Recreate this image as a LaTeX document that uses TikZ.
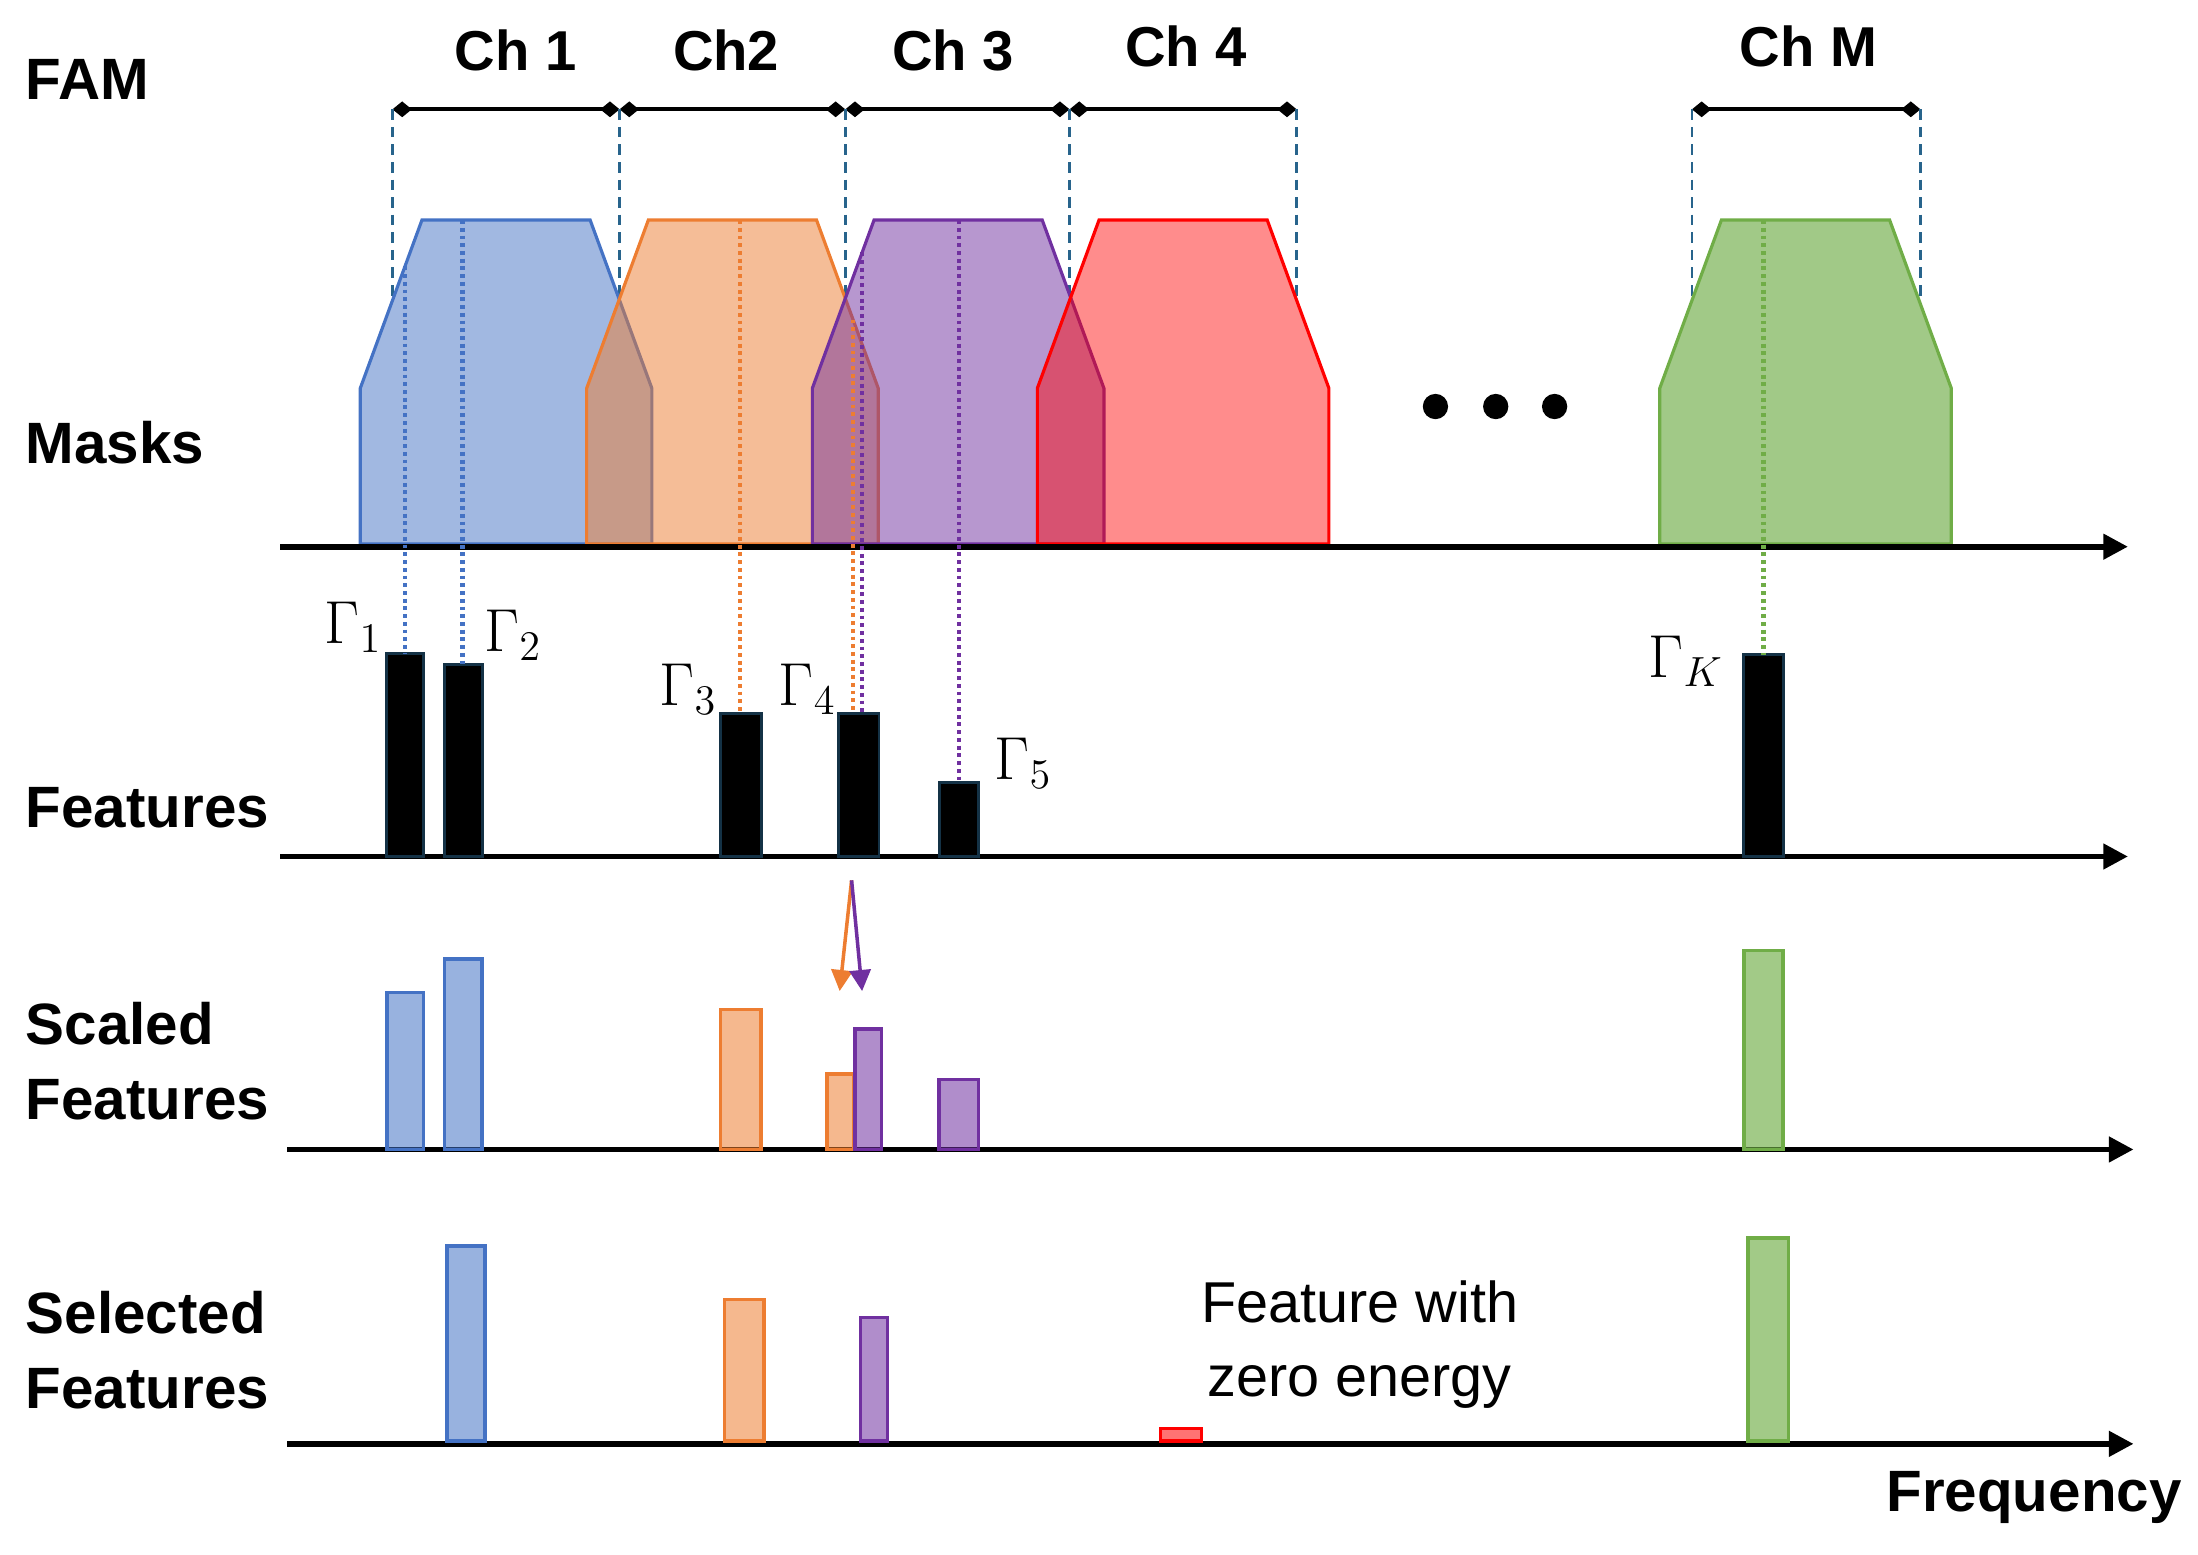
\documentclass[tikz,border=0pt]{standalone}
\usepackage{fontspec}
\setmainfont{Liberation Sans}
\usepackage{tikz}
\usetikzlibrary{arrows.meta,positioning}

\definecolor{chblue}{RGB}{68,114,196}
\definecolor{chorange}{RGB}{237,125,49}
\definecolor{chpurple}{RGB}{112,48,160}
\definecolor{chred}{RGB}{255,0,0}
\definecolor{chgreen}{RGB}{112,173,71}
\definecolor{famteal}{RGB}{40,100,140}
\definecolor{featedge}{RGB}{20,50,70}

% one mask around a channel centre
\newcommand{\maskpath}[1]{(#1-104,388) -- (#1-104,277) -- (#1-60,157) -- (#1+60,157) -- (#1+104,277) -- (#1+104,388) -- cycle}

\begin{document}
\begin{tikzpicture}[x=0.014018cm, y=-0.014018cm,
  rowlabel/.style={font=\bfseries\fontsize{16.6}{21.5}\selectfont, inner sep=0pt, align=left},
  chlabel/.style={font=\bfseries\fontsize{16}{19}\selectfont, inner sep=0pt},
  notelabel/.style={font=\fontsize{16.4}{21}\selectfont, inner sep=0pt, align=center},
  gamlabel/.style={font=\fontsize{18}{21}\selectfont, inner sep=0pt},
  freqaxis/.style={line width=1.6pt, -{Triangle[length=7pt,width=7pt]}},
  famline/.style={line width=1.2pt, {Diamond[length=5.5pt,width=4.5pt]}-{Diamond[length=5.5pt,width=4.5pt]}},
  famdash/.style={famteal, line width=0.7pt, dash pattern=on 3pt off 2pt},
  mask/.style={draw=#1, fill=#1, fill opacity=0.5, line width=0.9pt},
  featdot/.style={line width=1.3pt, dash pattern=on 1.1pt off 1.1pt},
  featbar/.style={draw=featedge, fill=black, line width=0.8pt},
  scbar/.style={draw=#1, fill=#1, fill opacity=0.55, line width=1pt},
  movearrow/.style={line width=1pt, -{Triangle[length=6pt,width=6pt]}},
]
\useasboundingbox (0,0) rectangle (1568,1109);

% FAM channel grid
\coordinate (t0) at (280,78);
\coordinate (t1) at (442,78);
\coordinate (t2) at (603,78);
\coordinate (t3) at (763,78);
\coordinate (t4) at (925,78);
\coordinate (tM0) at (1207,78);
\coordinate (tM1) at (1370,78);
\coordinate (sh) at (0,277);

\foreach \a/\b in {t0/t1, t1/t2, t2/t3, t3/t4, tM0/tM1}
  \draw[famline] (\a) -- (\b);
\foreach \t in {t0, t1, t2, t3, t4, tM0, tM1}
  \draw[famdash] (\t) -- (\t |- sh);

% Masks
\foreach \c in {361, 522.5, 683.5, 844, 1288}
  \fill[white] \maskpath{\c};
\draw[mask=chblue] \maskpath{361};
\draw[mask=chorange] \maskpath{522.5};
\draw[mask=chpurple] \maskpath{683.5};
\draw[mask=chred, fill opacity=0.45] \maskpath{844};
\draw[mask=chgreen, fill opacity=0.65] \maskpath{1288};

\foreach \x in {1024, 1067, 1109}
  \fill (\x,290) circle[radius=3.6pt];

% Axes
\coordinate (ax1a) at (200,390);  \coordinate (ax1b) at (1518,390);
\coordinate (ax2a) at (200,611);  \coordinate (ax2b) at (1518,611);
\coordinate (ax3a) at (205,820);  \coordinate (ax3b) at (1522,820);
\coordinate (ax4a) at (205,1030); \coordinate (ax4b) at (1522,1030);
\foreach \a/\b in {ax1a/ax1b, ax2a/ax2b, ax3a/ax3b, ax4a/ax4b}
  \draw[freqaxis] (\a) -- (\b);

% Features
\draw[featbar] (276,611) rectangle (302,466);
\draw[featbar] (317,611) rectangle (344,474);
\draw[featbar] (514,611) rectangle (543,509);
\draw[featbar] (598,611) rectangle (627,509);
\draw[featbar] (670,611) rectangle (698,558);
\draw[featbar] (1244,611) rectangle (1272,467);

\coordinate (m1a) at (289,190);    \coordinate (g1) at (289,466);
\coordinate (m1b) at (330,157);    \coordinate (g2) at (330,474);
\coordinate (m2a) at (528,157);    \coordinate (g3) at (528,509);
\coordinate (m2b) at (608.5,228);  \coordinate (g4a) at (608.5,509);
\coordinate (m3a) at (615,180);    \coordinate (g4b) at (615,509);
\coordinate (m3b) at (684,157);    \coordinate (g5) at (684,558);
\coordinate (mMa) at (1258,157);   \coordinate (gK) at (1258,467);

\foreach \src/\dst/\col in {m1a/g1/chblue, m1b/g2/chblue, m2a/g3/chorange, m2b/g4a/chorange, m3a/g4b/chpurple, m3b/g5/chpurple, mMa/gK/chgreen}
  \draw[featdot, \col] (\src) -- (\dst);

\node[gamlabel, anchor=south east] (gam1) at (273,466) {$\Gamma_1$};
\node[gamlabel, anchor=south west] (gam2) at (345,472) {$\Gamma_2$};
\node[gamlabel, anchor=south east] (gam3) at (512,510) {$\Gamma_3$};
\node[gamlabel, anchor=south east] (gam4) at (597,510) {$\Gamma_4$};
\node[gamlabel, anchor=south west] (gam5) at (709,563) {$\Gamma_5$};
\node[gamlabel, anchor=south east] (gamK) at (1230,490) {$\Gamma_K$};

% Scaled features
\coordinate (split) at (607.5,628);
\coordinate (toA) at (599,707);
\coordinate (toB) at (615,707);
\draw[movearrow, chorange] (split) -- (toA);
\draw[movearrow, chpurple] (split) -- (toB);

\draw[scbar=chblue] (276,820) rectangle (302,708);
\draw[scbar=chblue] (317,820) rectangle (344,684);
\draw[scbar=chorange] (514,820) rectangle (543,720);
\draw[scbar=chorange] (590,820) rectangle (609,766);
\draw[scbar=chpurple] (610,820) rectangle (629,734);
\draw[scbar=chpurple] (670,820) rectangle (698,770);
\draw[scbar=chgreen, fill opacity=0.65] (1244,820) rectangle (1272,678);

% Selected features
\draw[scbar=chblue] (319,1028) rectangle (346,889);
\draw[scbar=chorange] (517,1028) rectangle (545,927);
\draw[scbar=chpurple] (614,1028) rectangle (633,940);
\draw[scbar=chred] (828,1028) rectangle (857,1019);
\draw[scbar=chgreen, fill opacity=0.65] (1247,1028) rectangle (1276,883);

% Text labels
\node[rowlabel, anchor=west] (fam) at (18,57) {FAM};
\node[rowlabel, anchor=west] (masks) at (18,316) {Masks};
\node[rowlabel, anchor=west] (feat) at (18,576) {Features};
\node[rowlabel, anchor=west] (scaled) at (18,757) {Scaled\\Features};
\node[rowlabel, anchor=west] (selected) at (18,963) {Selected\\Features};
\node[rowlabel] (freq) at (1451,1068) {Frequency};

\node[chlabel] (ch1) at (368,36) {Ch 1};
\node[chlabel] (ch2) at (518,36) {Ch2};
\node[chlabel] (ch3) at (680,36) {Ch 3};
\node[chlabel] (ch4) at (846,33) {Ch 4};
\node[chlabel] (chM) at (1290,33) {Ch M};

\node[notelabel] (zero) at (970,959) {Feature with\\zero energy};

\end{tikzpicture}
\end{document}
